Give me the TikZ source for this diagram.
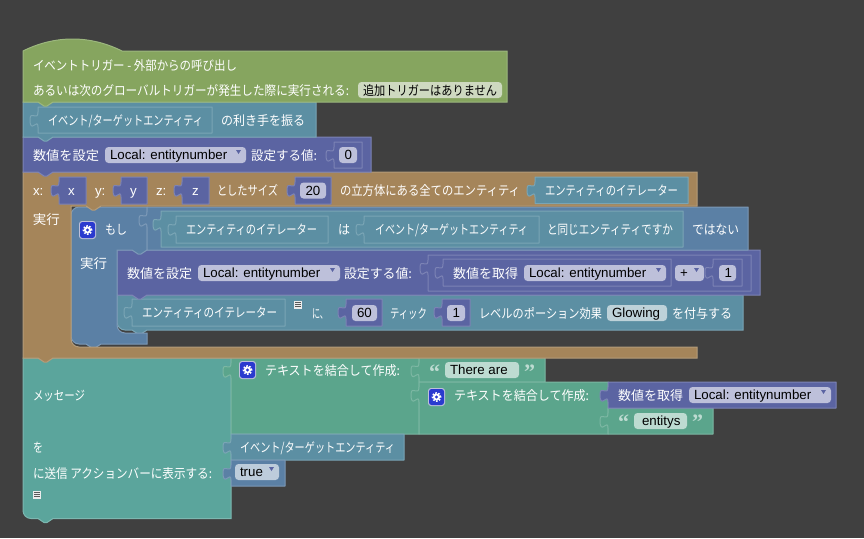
\documentclass[tikz,border=0pt]{standalone}
\usepackage{graphicx}
\usepackage{fontspec}
\setmainfont{Liberation Sans}
\newfontfamily\cjk{Noto Sans CJK JP}
\newfontfamily\qfont{Liberation Serif}
\definecolor{bgc}{HTML}{404040}
\definecolor{hatc}{HTML}{86A55F}\definecolor{hate}{HTML}{9CB77E}
\definecolor{entc}{HTML}{5C8FA3}\definecolor{ente}{HTML}{7AA5B5}
\definecolor{numc}{HTML}{5B64A2}\definecolor{nume}{HTML}{7C83B5}
\definecolor{broc}{HTML}{A5855A}\definecolor{broe}{HTML}{B49C7A}
\definecolor{bluc}{HTML}{5B80A5}\definecolor{blue2}{HTML}{7C99B7}
\definecolor{msgc}{HTML}{5BA59C}\definecolor{msge}{HTML}{7CB7B0}
\definecolor{txtc}{HTML}{5BA58C}\definecolor{txte}{HTML}{7CB7A3}
\definecolor{fnum}{HTML}{BDC0DA}\definecolor{fhat}{HTML}{CED9C0}
\definecolor{fent}{HTML}{BED2D9}\definecolor{ftxt}{HTML}{BDDBD1}\definecolor{fblu}{HTML}{BDCCDB}
\definecolor{gearc}{HTML}{2A3ACF}
\tikzset{
  hatb/.style={fill=hatc,draw=hate,line width=1pt},
  entb/.style={fill=entc,draw=ente,line width=1pt},
  numb/.style={fill=numc,draw=nume,line width=1pt},
  brob/.style={fill=broc,draw=broe,line width=1pt},
  blub/.style={fill=bluc,draw=blue2,line width=1pt},
  msgb/.style={fill=msgc,draw=msge,line width=1pt},
  txtb/.style={fill=txtc,draw=txte,line width=1pt},
  lbl/.style={inner sep=0pt,outer sep=0pt,text=white,anchor=base west,font=\cjk\fontsize{13}{13}\selectfont},
  flbl/.style={inner sep=0pt,outer sep=0pt,text=black,font=\fontsize{13.3}{13.3}\selectfont},
}
\newcounter{tn}
\newcommand\jt[5][white]{\stepcounter{tn}\node[lbl,text=#1] (t\thetn) at (#2,#4+5.2) {\resizebox{\dimexpr #3pt-#2pt\relax}{\height}{#5}};}
\newcommand\latl[3]{\stepcounter{tn}\node[lbl,font=\fontsize{13.3}{13.3}\selectfont] (t\thetn) at (#1,#2+5) {#3};}
\newcommand\vb[5]{\draw[#5,line join=round] (#1,#2+20) .. controls (#1,#2+10) and (#1-8,#2+28) .. (#1-8,#2+12.5) .. controls (#1-8,#2+2.5) and (#1,#2+15) .. (#1,#2+5) -- (#1,#2) -- (#3,#2) -- (#3,#4) -- (#1,#4) -- cycle;}
\newcommand\stb[5]{\draw[#5] (#1,#2) -- (#3,#2) -- (#3,#4) -- (#1+30,#4) -- (#1+24,#4+4) -- (#1+21,#4+4) -- (#1+15,#4) -- (#1,#4) -- cycle;}
\newcommand\fd[6]{\fill[#4,rounded corners=3.5pt] (#1,#3-8) rectangle (#2,#3+8);\stepcounter{tn}\node[flbl,anchor=base west] (t\thetn) at (#5,#3+4.7) {#6};}
\newcommand\tri[2]{\fill[numc] (#1-10,#2-5) -- (#1-5,#2-5) -- (#1-7.5,#2-1) -- cycle;}
\newcommand\gear[2]{\fill[fnum,rounded corners=3pt] (#1-1,#2-1) rectangle (#1+16,#2+17);\fill[gearc,rounded corners=2.5pt] (#1,#2) rectangle (#1+15,#2+16);
  \fill[white] (#1+7.5,#2+8) circle (3.6pt);
  \draw[white,line width=1.4pt,dash pattern=on 1.6pt off 1.54pt] (#1+7.5,#2+8) circle (4.2pt);
  \fill[gearc] (#1+7.5,#2+8) circle (1.7pt);}
\newcommand\ico[2]{\fill[white!85!gray] (#1,#2) rectangle (#1+8,#2+8);\fill[gray!70!black] (#1+1.2,#2+1.2) rectangle (#1+6.8,#2+2.2);\fill[gray!70!black] (#1+1.2,#2+3.4) rectangle (#1+6.8,#2+4.2);\fill[gray!70!black] (#1+1.2,#2+5.4) rectangle (#1+6.8,#2+6.4);}
\newcommand\qmk[3]{\stepcounter{tn}\node[inner sep=0pt,text=ftxt,anchor=base west,font=\qfont\bfseries\fontsize{22}{22}\selectfont] (t\thetn) at (#1,#2+19.5) {#3};}
\begin{document}
\begin{tikzpicture}[x=1pt,y=-1pt]
\useasboundingbox (0,0) rectangle (864,538);
\fill[bgc] (0,0) rectangle (864,538);

\draw[msgb] (23,358) -- (231,358) -- (231,518.5) -- (53,518.5) -- (47,522.5) -- (44,522.5) -- (38,518.5) -- (31,518.5) .. controls (26.6,518.5) and (23,514.9) .. (23,510.5) -- cycle;
\vb{231}{358}{419}{434}{txtb}
\vb{231}{434}{404}{460}{entb}
\vb{231}{460}{285}{486}{blub}
\vb{419}{357.5}{545}{382}{txtb}
\vb{419}{382}{608}{434}{txtb}
\vb{608}{408}{713}{434}{txtb}
\vb{608}{382}{836}{408}{numb}
\jt{33}{85}{395}{\cjk メッセージ}
\jt{33}{43}{447}{\cjk を}
\jt{33}{212}{473}{\cjk に送信 アクションバーに表示する:}
\ico{33}{491}
\gear{240}{362}
\jt{265}{400}{370}{\cjk テキストを結合して作成:}
\jt{240}{395}{447}{\cjk イベント/ターゲットエンティティ}
\fd{235}{279}{472}{fblu}{240}{true}\tri{279}{472}
\qmk{429}{360}{“}
\fd{445}{519}{370}{ftxt}{450}{There are}
\qmk{524}{360}{”}
\gear{429}{389}
\jt{454}{589}{395.5}{\cjk テキストを結合して作成:}
\jt{618}{683}{395}{\cjk 数値を取得}
\fd{689}{831}{395}{fnum}{694}{Local: entitynumber}\tri{831}{395}
\qmk{618}{409.5}{“}
\fd{634}{687}{421}{ftxt}{642}{entitys}
\qmk{692}{409.5}{”}

\draw[entb] (117,295) -- (743,295) -- (743,330) -- (147,330) -- (141,334) -- (138,334) -- (132,330) -- (125,330) .. controls (120.6,330) and (117,326.4) .. (117,322) -- cycle;
\vb{132}{299}{285}{326}{entb}
\jt{142}{277}{312.5}{\cjk エンティティのイテレーター}
\ico{294}{301}
\jt{312}{328}{313}{\cjk に、}
\vb{346}{299}{382}{326}{numb}
\fd{352}{377}{313}{fnum}{357}{60}
\jt{390}{427}{313}{\cjk ティック}
\vb{442}{299}{470}{326}{numb}
\fd{447}{465}{313}{fnum}{452.5}{1}
\jt{479}{602}{313}{\cjk レベルのポーション効果}
\fd{607}{667}{313}{fent}{612}{Glowing}
\jt{672}{732}{313}{\cjk を付与する}

\draw[numb] (117,250) -- (760,250) -- (760,295) -- (147,295) -- (141,299) -- (138,299) -- (132,295) -- (117,295) -- cycle;
\jt{127}{192}{273}{\cjk 数値を設定}
\fd{198}{340}{273}{fnum}{203}{Local: entitynumber}\tri{340}{273}
\jt{344}{412}{273}{\cjk 設定する値:}
\vb{428}{255}{751}{291}{numb}
\vb{443}{259}{671}{286}{numb}
\jt{453}{518}{273}{\cjk 数値を取得}
\fd{524}{666}{273}{fnum}{529}{Local: entitynumber}\tri{666}{273}
\fd{675}{704}{273}{fnum}{680}{+}\tri{704}{273}
\vb{713}{259}{742}{286}{numb}
\fd{719}{736}{273}{fnum}{724.5}{1}

\draw[blub] (71,215) .. controls (71,210.6) and (74.6,207) .. (79,207) -- (147,207) -- (147,250) -- (141,254) -- (138,254) -- (132,250) -- (117,250) -- (117,325) .. controls (117,329.4) and (120.6,333) .. (125,333) -- (147,333) -- (147,344) -- (101,344) -- (95,348) -- (92,348) -- (86,344) -- (79,344) .. controls (74.6,344) and (71,340.4) .. (71,336) -- cycle;
\vb{147}{207}{748}{250}{blub}
\vb{161}{211}{683}{247}{entb}
\vb{176}{216}{328}{243}{entb}
\vb{364}{216}{539}{243}{entb}
\gear{80}{222}
\jt{105}{127}{229}{\cjk もし}
\jt{80}{107}{263}{\cjk 実行}
\jt{186}{317}{229}{\cjk エンティティのイテレーター}
\jt{338}{350}{229}{\cjk は}
\jt{375}{528}{229}{\cjk イベント/ターゲットエンティティ}
\jt{547}{673}{229}{\cjk と同じエンティティですか}
\jt{692}{739}{229}{\cjk ではない}

\draw[brob] (23,172) -- (697,172) -- (697,206) -- (101,206) -- (95,210) -- (92,210) -- (86,206) -- (71,206) -- (71,339) .. controls (71,343.4) and (74.6,347) .. (79,347) -- (697,347) -- (697,358) -- (53,358) -- (47,362) -- (44,362) -- (38,358) -- (23,358) -- cycle;
\latl{33}{190}{x:}
\vb{59}{177}{86}{204}{numb}
\latl{68}{190}{x}
\latl{95}{190}{y:}
\vb{121}{177}{147}{204}{numb}
\latl{130}{190}{y}
\latl{156}{190}{z:}
\vb{182}{177}{209}{204}{numb}
\latl{192}{190}{z}
\jt{217}{278}{190}{\cjk としたサイズ}
\vb{295}{177}{331}{204}{numb}
\fd{300}{326}{190.5}{fnum}{305.5}{20}
\jt{340}{520}{190}{\cjk の立方体にある全てのエンティティ}
\vb{535}{177}{688}{203.5}{entb}
\jt{545}{678}{190}{\cjk エンティティのイテレーター}
\jt{33}{60}{219}{\cjk 実行}

\stb{23}{137}{371}{172}{numb}
\jt{33}{99}{155}{\cjk 数値を設定}
\fd{105}{246}{155}{fnum}{110}{Local: entitynumber}\tri{246}{155}
\jt{251}{317}{155}{\cjk 設定する値:}
\vb{334}{142}{362}{168}{numb}
\fd{339}{357}{155}{fnum}{344.5}{0}

\stb{23}{102}{316}{137}{entb}
\vb{38}{107}{212}{133}{entb}
\jt{48}{203}{120}{\cjk イベント/ターゲットエンティティ}
\jt{221}{305}{120}{\cjk の利き手を振る}

\draw[hatb] (23,102) -- (23,51) .. controls (55,35) and (90,35) .. (122,51) -- (507,51) -- (507,102) -- (53,102) -- (47,106) -- (44,106) -- (38,102) -- cycle;
\jt{33}{237}{65}{\cjk イベントトリガー - 外部からの呼び出し}
\jt{33}{349}{90}{\cjk あるいは次のグローバルトリガーが発生した際に実行される:}
\fill[fhat,rounded corners=3.5pt] (358,82) rectangle (502,98);
\jt[black]{363}{497}{90}{\cjk 追加トリガーはありません}
\end{tikzpicture}
\end{document}
